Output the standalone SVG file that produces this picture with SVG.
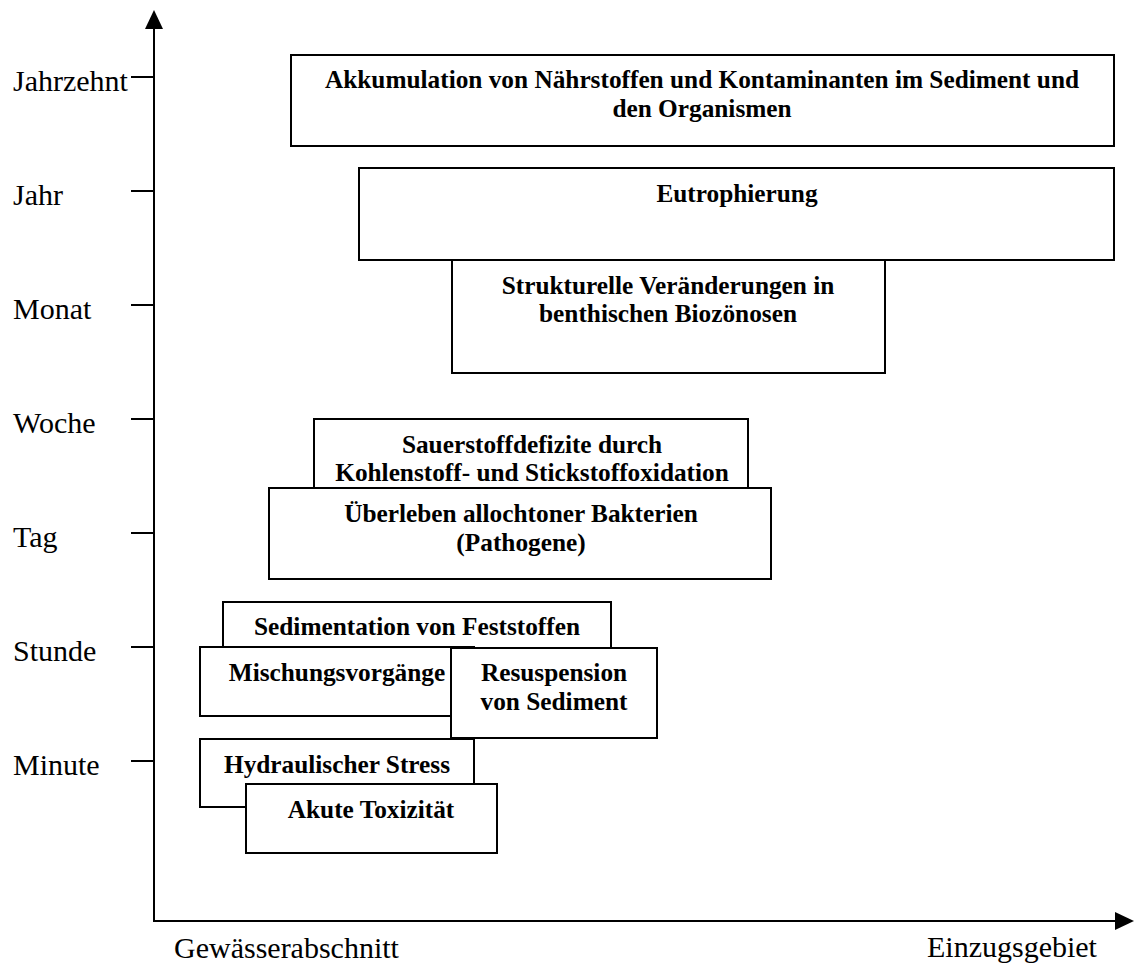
<svg xmlns="http://www.w3.org/2000/svg" width="1134" height="967" viewBox="0 0 1134 967">
<style>
.box{fill:#fff;stroke:#000;stroke-width:2}
.axis{stroke:#000;stroke-width:2;fill:none}
.b{font-family:"Liberation Serif","Times New Roman",serif;font-weight:bold;font-size:25.3px;fill:#000;text-anchor:middle}
.r{font-family:"Liberation Serif","Times New Roman",serif;font-size:30px;fill:#000}
</style>
<rect width="1134" height="967" fill="#fff"/>
<g id="axes">
<line class="axis" x1="154" y1="921" x2="154" y2="26"/>
<polygon points="154,10 145,29 163,29" fill="#000"/>
<line class="axis" x1="153" y1="921" x2="1118" y2="921"/>
<polygon points="1134,921 1115,912 1115,930" fill="#000"/>
<g class="axis">
<line x1="131" y1="77" x2="154" y2="77"/>
<line x1="131" y1="191" x2="154" y2="191"/>
<line x1="131" y1="305" x2="154" y2="305"/>
<line x1="131" y1="419" x2="154" y2="419"/>
<line x1="131" y1="533" x2="154" y2="533"/>
<line x1="131" y1="647" x2="154" y2="647"/>
<line x1="131" y1="761" x2="154" y2="761"/>
</g>
<text class="r" x="13" y="91">Jahrzehnt</text>
<text class="r" x="13" y="205">Jahr</text>
<text class="r" x="13" y="319">Monat</text>
<text class="r" x="13" y="433">Woche</text>
<text class="r" x="13" y="547">Tag</text>
<text class="r" x="13" y="661">Stunde</text>
<text class="r" x="13" y="775">Minute</text>
<text class="r" x="174" y="958">Gewässerabschnitt</text>
<text class="r" x="927" y="957">Einzugsgebiet</text>
</g>
<g id="akkumulation">
<rect class="box" x="291" y="55" width="823" height="91"/>
<text class="b" x="702" y="88">Akkumulation von Nährstoffen und Kontaminanten im Sediment und</text>
<text class="b" x="702" y="117">den Organismen</text>
</g>
<g id="eutrophierung">
<rect class="box" x="359" y="168" width="755" height="92"/>
<text class="b" x="737" y="202">Eutrophierung</text>
</g>
<g id="strukturelle">
<rect class="box" x="452" y="260" width="433" height="113"/>
<text class="b" x="668" y="294">Strukturelle Veränderungen in</text>
<text class="b" x="668" y="322">benthischen Biozönosen</text>
</g>
<g id="sauerstoff">
<rect class="box" x="314" y="419" width="434" height="90"/>
<text class="b" x="532" y="453">Sauerstoffdefizite durch</text>
<text class="b" x="532" y="481">Kohlenstoff- und Stickstoffoxidation</text>
</g>
<g id="ueberleben">
<rect class="box" x="269" y="488" width="502" height="91"/>
<text class="b" x="521" y="522">Überleben allochtoner Bakterien</text>
<text class="b" x="521" y="551">(Pathogene)</text>
</g>
<g id="sedimentation">
<rect class="box" x="223" y="602" width="388" height="70"/>
<text class="b" x="417" y="635">Sedimentation von Feststoffen</text>
</g>
<g id="mischung">
<rect class="box" x="200" y="647" width="274" height="69"/>
<text class="b" x="337" y="681">Mischungsvorgänge</text>
</g>
<g id="resuspension">
<rect class="box" x="451" y="648" width="206" height="90"/>
<text class="b" x="554" y="681">Resuspension</text>
<text class="b" x="554" y="710">von Sediment</text>
</g>
<g id="hydraulisch">
<rect class="box" x="200" y="739" width="274" height="68"/>
<text class="b" x="337" y="773">Hydraulischer Stress</text>
</g>
<g id="akut">
<rect class="box" x="246" y="784" width="251" height="69"/>
<text class="b" x="371" y="818">Akute Toxizität</text>
</g>
</svg>
